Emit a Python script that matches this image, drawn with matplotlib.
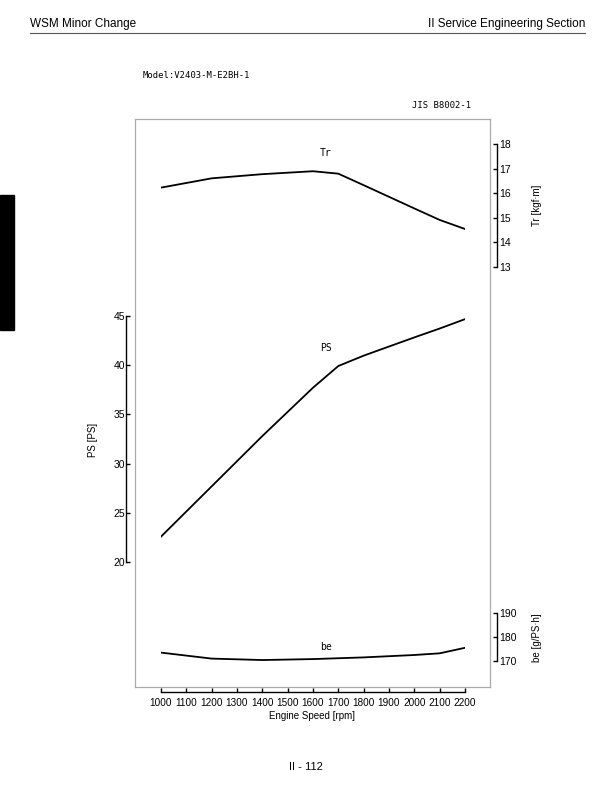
import matplotlib
matplotlib.use("Agg")
import matplotlib.pyplot as plt

rpm = [1000, 1200, 1400, 1600, 1700, 1800, 2000, 2100, 2200]
torque = [16.23, 16.61, 16.78, 16.90, 16.80, 16.33, 15.38, 14.91, 14.54]   # kgf*m
power = [22.6, 27.7, 32.8, 37.7, 39.9, 40.95, 42.8, 43.7, 44.65]          # PS
bsfc = [173.5, 171.0, 170.4, 170.8, 171.5, 172.5, 173.2, 175.5]           # g/PS*h
bsfc_rpm = [1000, 1200, 1400, 1600, 1800, 2000, 2100, 2200]
x_ticks = list(range(1000, 2201, 100))
tr_ticks = [13, 14, 15, 16, 17, 18]
ps_ticks = [20, 25, 30, 35, 40, 45]
be_ticks = [170, 180, 190]

W, H = 612, 792
fig = plt.figure(figsize=(W / 100, H / 100), dpi=100)


def rect(x0, top, x1, bottom):
    # pixel box (origin top-left) -> figure fraction
    return [x0 / W, 1 - bottom / H, (x1 - x0) / W, (bottom - top) / H]


def pt(px):
    return px * 72 / 100


sans = "Liberation Sans"
mono = "DejaVu Sans Mono"

# page header / footer
fig.text(30 / W, 1 - 24 / H, "WSM Minor Change", family=sans, fontsize=8.5, va="center")
fig.text(585 / W, 1 - 24 / H, "II Service Engineering Section", family=sans, fontsize=8.5,
         va="center", ha="right")
fig.add_artist(plt.Line2D([30 / W, 585 / W], [1 - 33 / H, 1 - 33 / H], color="#555555", lw=0.8))
fig.text(306 / W, 1 - 767 / H, "II - 112", family=sans, fontsize=8, ha="center", va="center")
fig.add_artist(plt.Rectangle((0, 1 - 330 / H), 14 / W, 135 / H, color="black"))

fig.text(143 / W, 1 - 75 / H, "Model:V2403-M-E2BH-1", family=mono, fontsize=6.4, va="center")
fig.text(471 / W, 1 - 106 / H, "JIS B8002-1", family=mono, fontsize=6.4, va="center", ha="right")

# gray frame around the chart
frame = fig.add_axes(rect(135, 119, 490, 687))
frame.set_xticks([])
frame.set_yticks([])
for s in frame.spines.values():
    s.set_color("#aaaaaa")
    s.set_linewidth(0.9)
frame.patch.set_alpha(0)

X0, X1 = 161, 465


def series_axes(top, bottom, ylim):
    ax = fig.add_axes(rect(X0, top, X1, bottom))
    ax.patch.set_alpha(0)
    ax.set_xlim(1000, 2200)
    ax.set_ylim(*ylim)
    for s in ax.spines.values():
        s.set_visible(False)
    ax.set_xticks([])
    ax.set_yticks([])
    return ax


# torque
ax_tr = series_axes(144.3, 266.7, (13, 18))
ax_tr.plot(rpm, torque, color="black", lw=1.3)
ax_tr.spines["right"].set_visible(True)
ax_tr.spines["right"].set_position(("outward", pt(32)))
ax_tr.spines["right"].set_linewidth(1.0)
ax_tr.yaxis.set_ticks_position("right")
ax_tr.set_yticks(tr_ticks)
ax_tr.tick_params(axis="y", direction="in", length=3.2, width=1.0, pad=1.5, labelsize=7.5)
ax_tr.text(1650, 17.64, "Tr", family=mono, fontsize=7, ha="center", va="center")
fig.text(537 / W, 1 - 205 / H, "Tr [kgf·m]", family=sans, fontsize=7, rotation=90,
         ha="center", va="center")

# power
ax_ps = series_axes(315.7, 562.3, (20, 45))
ax_ps.plot(rpm, power, color="black", lw=1.3)
ax_ps.spines["left"].set_visible(True)
ax_ps.spines["left"].set_position(("outward", pt(35)))
ax_ps.spines["left"].set_linewidth(1.0)
ax_ps.set_yticks(ps_ticks)
ax_ps.tick_params(axis="y", direction="in", length=3.2, width=1.0, pad=0.5, labelsize=7.5)
ax_ps.text(1650, 41.7, "PS", family=mono, fontsize=7, ha="center", va="center")
fig.text(93 / W, 1 - 440 / H, "PS [PS]", family=sans, fontsize=7, rotation=90,
         ha="center", va="center")

# fuel consumption + rpm axis
ax_be = series_axes(613, 661, (170, 190))
ax_be.plot(bsfc_rpm, bsfc, color="black", lw=1.3)
ax_be.spines["right"].set_visible(True)
ax_be.spines["right"].set_position(("outward", pt(32)))
ax_be.spines["right"].set_linewidth(1.0)
ax_be.yaxis.set_ticks_position("right")
ax_be.set_yticks(be_ticks)
ax_be.tick_params(axis="y", direction="in", length=3.2, width=1.0, pad=1.5, labelsize=7.5)
ax_be.text(1650, 175.8, "be", family=mono, fontsize=7, ha="center", va="center")
fig.text(537 / W, 1 - 638 / H, "be [g/PS·h]", family=sans, fontsize=7, rotation=90,
         ha="center", va="center")

ax_be.spines["bottom"].set_visible(True)
ax_be.spines["bottom"].set_position(("outward", pt(31)))
ax_be.spines["bottom"].set_linewidth(1.0)
ax_be.set_xticks(x_ticks)
ax_be.tick_params(axis="x", direction="in", length=3.2, width=1.0, pad=4, labelsize=7.2)
fig.text(312 / W, 1 - 716 / H, "Engine Speed [rpm]", family=sans, fontsize=7,
         ha="center", va="center")

for ax in (ax_tr, ax_ps, ax_be):
    for lab in ax.get_xticklabels() + ax.get_yticklabels():
        lab.set_family(sans)

fig.savefig("out.png", dpi=100)
